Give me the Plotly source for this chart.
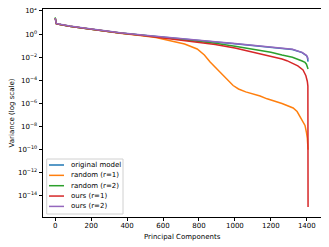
import plotly.graph_objects as go

# ---- data (variance values) ----
x_original = [0, 1, 3, 6, 20, 40, 80, 150, 250, 361, 500, 640, 800, 890, 1000, 1100, 1200, 1262, 1320, 1374, 1390, 1398, 1403, 1407]
y_original = [24.0, 14.1, 9.55, 7.94, 7.08, 6.03, 4.79, 3.39, 2.0, 1.26, 0.759, 0.457, 0.275, 0.209, 0.148, 0.107, 0.0794, 0.0631, 0.0468, 0.0251, 0.0178, 0.0135, 0.0100, 0.00407]

x_random1 = [0, 1, 3, 6, 20, 40, 80, 150, 250, 361, 473, 560, 640, 720, 790, 830, 862, 890, 918, 962, 990, 1020, 1060, 1140, 1179, 1262, 1324, 1346, 1374, 1390, 1398, 1403, 1407]
y_random1 = [24.0, 14.1, 9.55, 7.94, 7.08, 6.03, 4.79, 3.39, 2.0, 1.20, 0.76, 0.50, 0.269, 0.141, 0.0513, 0.0158, 0.00389, 0.00145, 5.25e-4, 1.07e-4, 3.55e-5, 1.78e-5, 1.0e-5, 4.47e-6, 2.51e-6, 1.0e-6, 4.07e-7, 2.0e-7, 3.98e-8, 1.26e-8, 3.16e-9, 1.0e-9, 1.0e-10]

x_random2 = [0, 1, 3, 6, 20, 40, 80, 150, 250, 361, 500, 640, 800, 890, 1000, 1100, 1200, 1262, 1320, 1374, 1390, 1398, 1404, 1407]
y_random2 = [28.0, 15.0, 9.8, 8.0, 7.08, 6.03, 4.79, 3.39, 2.0, 1.24, 0.74, 0.427, 0.234, 0.158, 0.0891, 0.0501, 0.0263, 0.0155, 0.01, 0.00468, 0.00355, 0.00251, 0.00158, 9.55e-4]

x_ours1 = [0, 1, 3, 6, 20, 40, 80, 150, 250, 361, 500, 640, 800, 890, 1000, 1100, 1200, 1262, 1289, 1320, 1350, 1379, 1395, 1403, 1406, 1407]
y_ours1 = [24.0, 14.1, 9.55, 7.94, 7.08, 6.03, 4.79, 3.39, 2.0, 1.22, 0.71, 0.398, 0.191, 0.126, 0.0631, 0.0282, 0.0112, 0.00708, 0.00501, 0.00316, 0.00178, 7.94e-4, 2.51e-4, 7.94e-5, 3.16e-5, 1.12e-15]

x_ours2 = [0, 1, 3, 6, 20, 40, 80, 150, 250, 361, 500, 640, 800, 890, 1000, 1100, 1200, 1262, 1320, 1374, 1390, 1398, 1403, 1407]
y_ours2 = [24.0, 14.5, 10.0, 8.3, 7.4, 6.3, 5.0, 3.55, 2.1, 1.32, 0.80, 0.48, 0.29, 0.22, 0.156, 0.112, 0.0832, 0.0661, 0.0490, 0.0263, 0.0190, 0.0145, 0.0110, 0.0063]

series_names = ["original model", "random (r=1)", "random (r=2)", "ours (r=1)", "ours (r=2)"]
series_x = [x_original, x_random1, x_random2, x_ours1, x_ours2]
series_y = [y_original, y_random1, y_random2, y_ours1, y_ours2]
series_colors = ["#1f77b4", "#ff7f0e", "#2ca02c", "#d62728", "#9467bd"]

x_ticks = [0, 200, 400, 600, 800, 1000, 1200, 1400]
y_exps = [2, 0, -2, -4, -6, -8, -10, -12, -14]

# The page has the browser's default 8px body margin, so the figure is
# sized 8px smaller and its plot area lands at page x 43..321, y 9..217.
FIG_W, FIG_H = 321, 239
M_L, M_R, M_T, M_B = 35, 8, 1, 30
PAGE_LEFT, PAGE_BOTTOM = 8 + M_L, 8 + FIG_H - M_B
W = FIG_W - M_L - M_R
H = FIG_H - M_T - M_B

def px_x(p):
    return (p - PAGE_LEFT) / W

def px_y(p):
    return (PAGE_BOTTOM - p) / H

fig = go.Figure()
for name, xs, ys, col in zip(series_names, series_x, series_y, series_colors):
    fig.add_trace(go.Scatter(x=xs, y=ys, mode="lines", name=name,
                             line=dict(color=col, width=1.5), showlegend=False))

# compact matplotlib-style legend drawn in paper coordinates
shapes = [dict(type="rect", xref="paper", yref="paper",
               x0=px_x(46.7), x1=px_x(123), y0=px_y(214), y1=px_y(159),
               line=dict(color="#d0d0d0", width=1), fillcolor="rgba(255,255,255,0.85)",
               layer="above")]
annotations = []
for i, (name, col) in enumerate(zip(series_names, series_colors)):
    row = 165.0 + i * 10.35
    shapes.append(dict(type="line", xref="paper", yref="paper",
                       x0=px_x(49), x1=px_x(64), y0=px_y(row), y1=px_y(row),
                       line=dict(color=col, width=1.5), layer="above"))
    annotations.append(dict(text=name, xref="paper", yref="paper",
                            x=px_x(68.5), y=px_y(row), xanchor="left", yanchor="middle",
                            showarrow=False, font=dict(size=7, color="black")))

# x-axis title placed like matplotlib's
annotations.append(dict(text="Principal Components", xref="paper", yref="paper",
                        x=0.5, y=px_y(236.5), xanchor="center", yanchor="middle",
                        showarrow=False, font=dict(size=7, color="black")))

fig.update_layout(
    width=FIG_W, height=FIG_H,
    margin=dict(l=M_L, r=M_R, t=M_T, b=M_B, pad=0),
    paper_bgcolor="white", plot_bgcolor="white",
    font=dict(family="DejaVu Sans", size=7, color="black"),
    showlegend=False,
    shapes=shapes, annotations=annotations,
)
fig.update_xaxes(
    range=[-68, 1479], tickvals=x_ticks, ticktext=[str(v) for v in x_ticks],
    showgrid=False, zeroline=False, showline=True, linecolor="black", linewidth=0.8,
    mirror=True, ticks="outside", ticklen=3.5, tickwidth=0.8, tickcolor="black",
    ticklabelstandoff=-2, automargin=False,
    tickfont=dict(size=7),
)
fig.update_yaxes(
    type="log", range=[-15.82, 2.17],
    tickvals=[10.0 ** e for e in y_exps],
    ticktext=["10<sup>%s</sup>" % (str(e).replace("-", "\u2212")) for e in y_exps],
    showgrid=False, zeroline=False, showline=True, linecolor="black", linewidth=0.8,
    mirror=True, ticks="outside", ticklen=3.5, tickwidth=0.8, tickcolor="black",
    automargin=False, ticklabeloverflow="allow",
    tickfont=dict(size=7), title=dict(text="Variance (log scale)", font=dict(size=7), standoff=4),
)

fig.write_html("out.html")
